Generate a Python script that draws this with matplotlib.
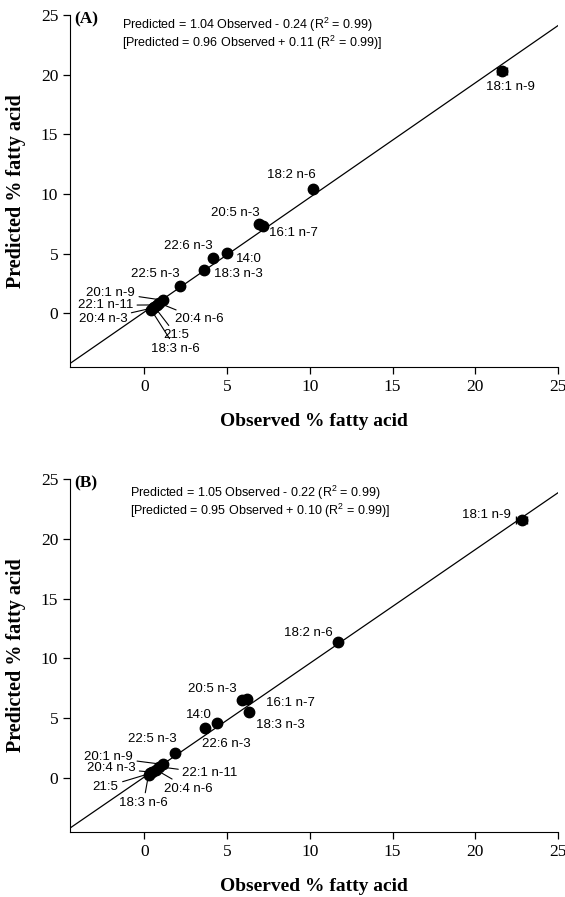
import numpy as np
import matplotlib
matplotlib.use("Agg")
import matplotlib.pyplot as plt

plt.rcParams['mathtext.fontset'] = 'custom'
plt.rcParams['mathtext.rm'] = 'Liberation Sans'
plt.rcParams['mathtext.it'] = 'Liberation Sans:italic'

# fatty acids, observed vs predicted (%)
fa = ["18:1 n-9", "18:2 n-6", "20:5 n-3", "16:1 n-7", "14:0", "22:6 n-3",
      "18:3 n-3", "22:5 n-3", "20:1 n-9", "22:1 n-11", "20:4 n-3", "20:4 n-6",
      "21:5", "18:3 n-6"]

obs_a = [21.6, 10.2, 6.93, 7.19, 5.01, 4.17, 3.6, 2.16, 1.1, 0.75, 0.5, 0.9, 0.6, 0.4]
pred_a = [20.3, 10.4, 7.47, 7.3, 5.09, 4.64, 3.6, 2.29, 1.1, 0.7, 0.45, 0.85, 0.55, 0.3]
xerr_a = [0.3, 0, 0, 0, 0, 0, 0, 0, 0, 0, 0, 0, 0, 0]

obs_b = [22.8, 11.68, 5.92, 6.22, 3.67, 4.37, 6.32, 1.85, 1.1, 0.9, 0.45, 0.7, 0.35, 0.25]
pred_b = [21.6, 11.35, 6.52, 6.58, 4.16, 4.63, 5.54, 2.12, 1.15, 0.95, 0.5, 0.7, 0.4, 0.3]
xerr_b = [0.35, 0, 0, 0, 0, 0, 0, 0, 0, 0, 0, 0, 0, 0]

# label positions (data units) and whether a leader line is drawn
lab_a = [(22.1, 19.0), (8.9, 11.6), (5.48, 8.41), (9.0, 6.69), (6.32, 4.59), (2.66, 5.65),
         (5.68, 3.27), (0.65, 3.27), (-2.05, 1.74), (-2.37, 0.67), (-2.51, -0.5), (3.3, -0.5),
         (1.93, -1.85), (1.9, -2.96)]
lab_b = [(20.7, 22.0), (9.9, 12.15), (4.1, 7.42), (8.8, 6.25), (3.3, 5.27), (4.97, 2.84),
         (8.2, 4.43), (0.45, 3.26), (-2.17, 1.73), (3.97, 0.39), (-2.03, 0.81), (2.66, -0.87),
         (-2.35, -0.73), (-0.06, -2.07)]
leader = [False] * 8 + [True] * 6

fit_a = (0.96, 0.11)
fit_b = (0.95, 0.10)
eq_a = ["Predicted = 1.04 Observed - 0.24 (R$^2$ = 0.99)",
        "[Predicted = 0.96 Observed + 0.11 (R$^2$ = 0.99)]"]
eq_b = ["Predicted = 1.05 Observed - 0.22 (R$^2$ = 0.99)",
        "[Predicted = 0.95 Observed + 0.10 (R$^2$ = 0.99)]"]

fig = plt.figure(figsize=(5.65, 8.97), dpi=100)
ax1 = fig.add_axes([0.1239, 0.5909, 0.8637, 0.3924])
ax2 = fig.add_axes([0.1239, 0.0725, 0.8637, 0.3935])

serif = 'Liberation Serif'
sans = 'Liberation Sans'


def panel(ax, obs, pred, xerr, labs, fit, eq, tag, eqx, eqy):
    xl = np.array([-4.5, 25])
    ax.plot(xl, fit[0] * xl + fit[1], color='black', lw=0.9, zorder=1)
    ax.errorbar(obs, pred, xerr=xerr, fmt='o', color='black', ms=7.5,
                elinewidth=0.9, capsize=3, zorder=3)
    for i in range(len(fa)):
        if leader[i]:
            ax.annotate(fa[i], xy=(obs[i], pred[i]), xytext=labs[i],
                        ha='center', va='center', fontsize=9.5, family=sans,
                        arrowprops=dict(arrowstyle='-', lw=0.8, color='black',
                                        shrinkA=1, shrinkB=0))
        else:
            ax.text(labs[i][0], labs[i][1], fa[i], ha='center', va='center',
                    fontsize=9.5, family=sans)
    ax.text(-4.25, 24.6, tag, fontsize=12.5, family=serif, fontweight='bold',
            ha='left', va='center')
    ax.text(eqx, eqy, eq[0], fontsize=9, family=sans, ha='left', va='center')
    ax.text(eqx, eqy - 1.5, eq[1], fontsize=9, family=sans, ha='left', va='center')
    ax.set_xlim(-4.5, 25)
    ax.set_ylim(-4.5, 25)
    ax.set_xticks([0, 5, 10, 15, 20, 25])
    ax.set_yticks([0, 5, 10, 15, 20, 25])
    ax.spines['top'].set_visible(False)
    ax.spines['right'].set_visible(False)
    ax.tick_params(direction='out', length=5, width=0.9, labelsize=12.5)
    for t in ax.get_xticklabels() + ax.get_yticklabels():
        t.set_family(serif)
    ax.set_xlabel('Observed % fatty acid', fontsize=14, family=serif,
                  fontweight='bold', labelpad=13)
    ax.set_ylabel('Predicted % fatty acid', fontsize=14.5, family=serif,
                  fontweight='bold', labelpad=11)


panel(ax1, obs_a, pred_a, xerr_a, lab_a, fit_a, eq_a, '(A)', -1.35, 24.2)
panel(ax2, obs_b, pred_b, xerr_b, lab_b, fit_b, eq_b, '(B)', -0.86, 23.8)

fig.savefig("out.png", dpi=100)
